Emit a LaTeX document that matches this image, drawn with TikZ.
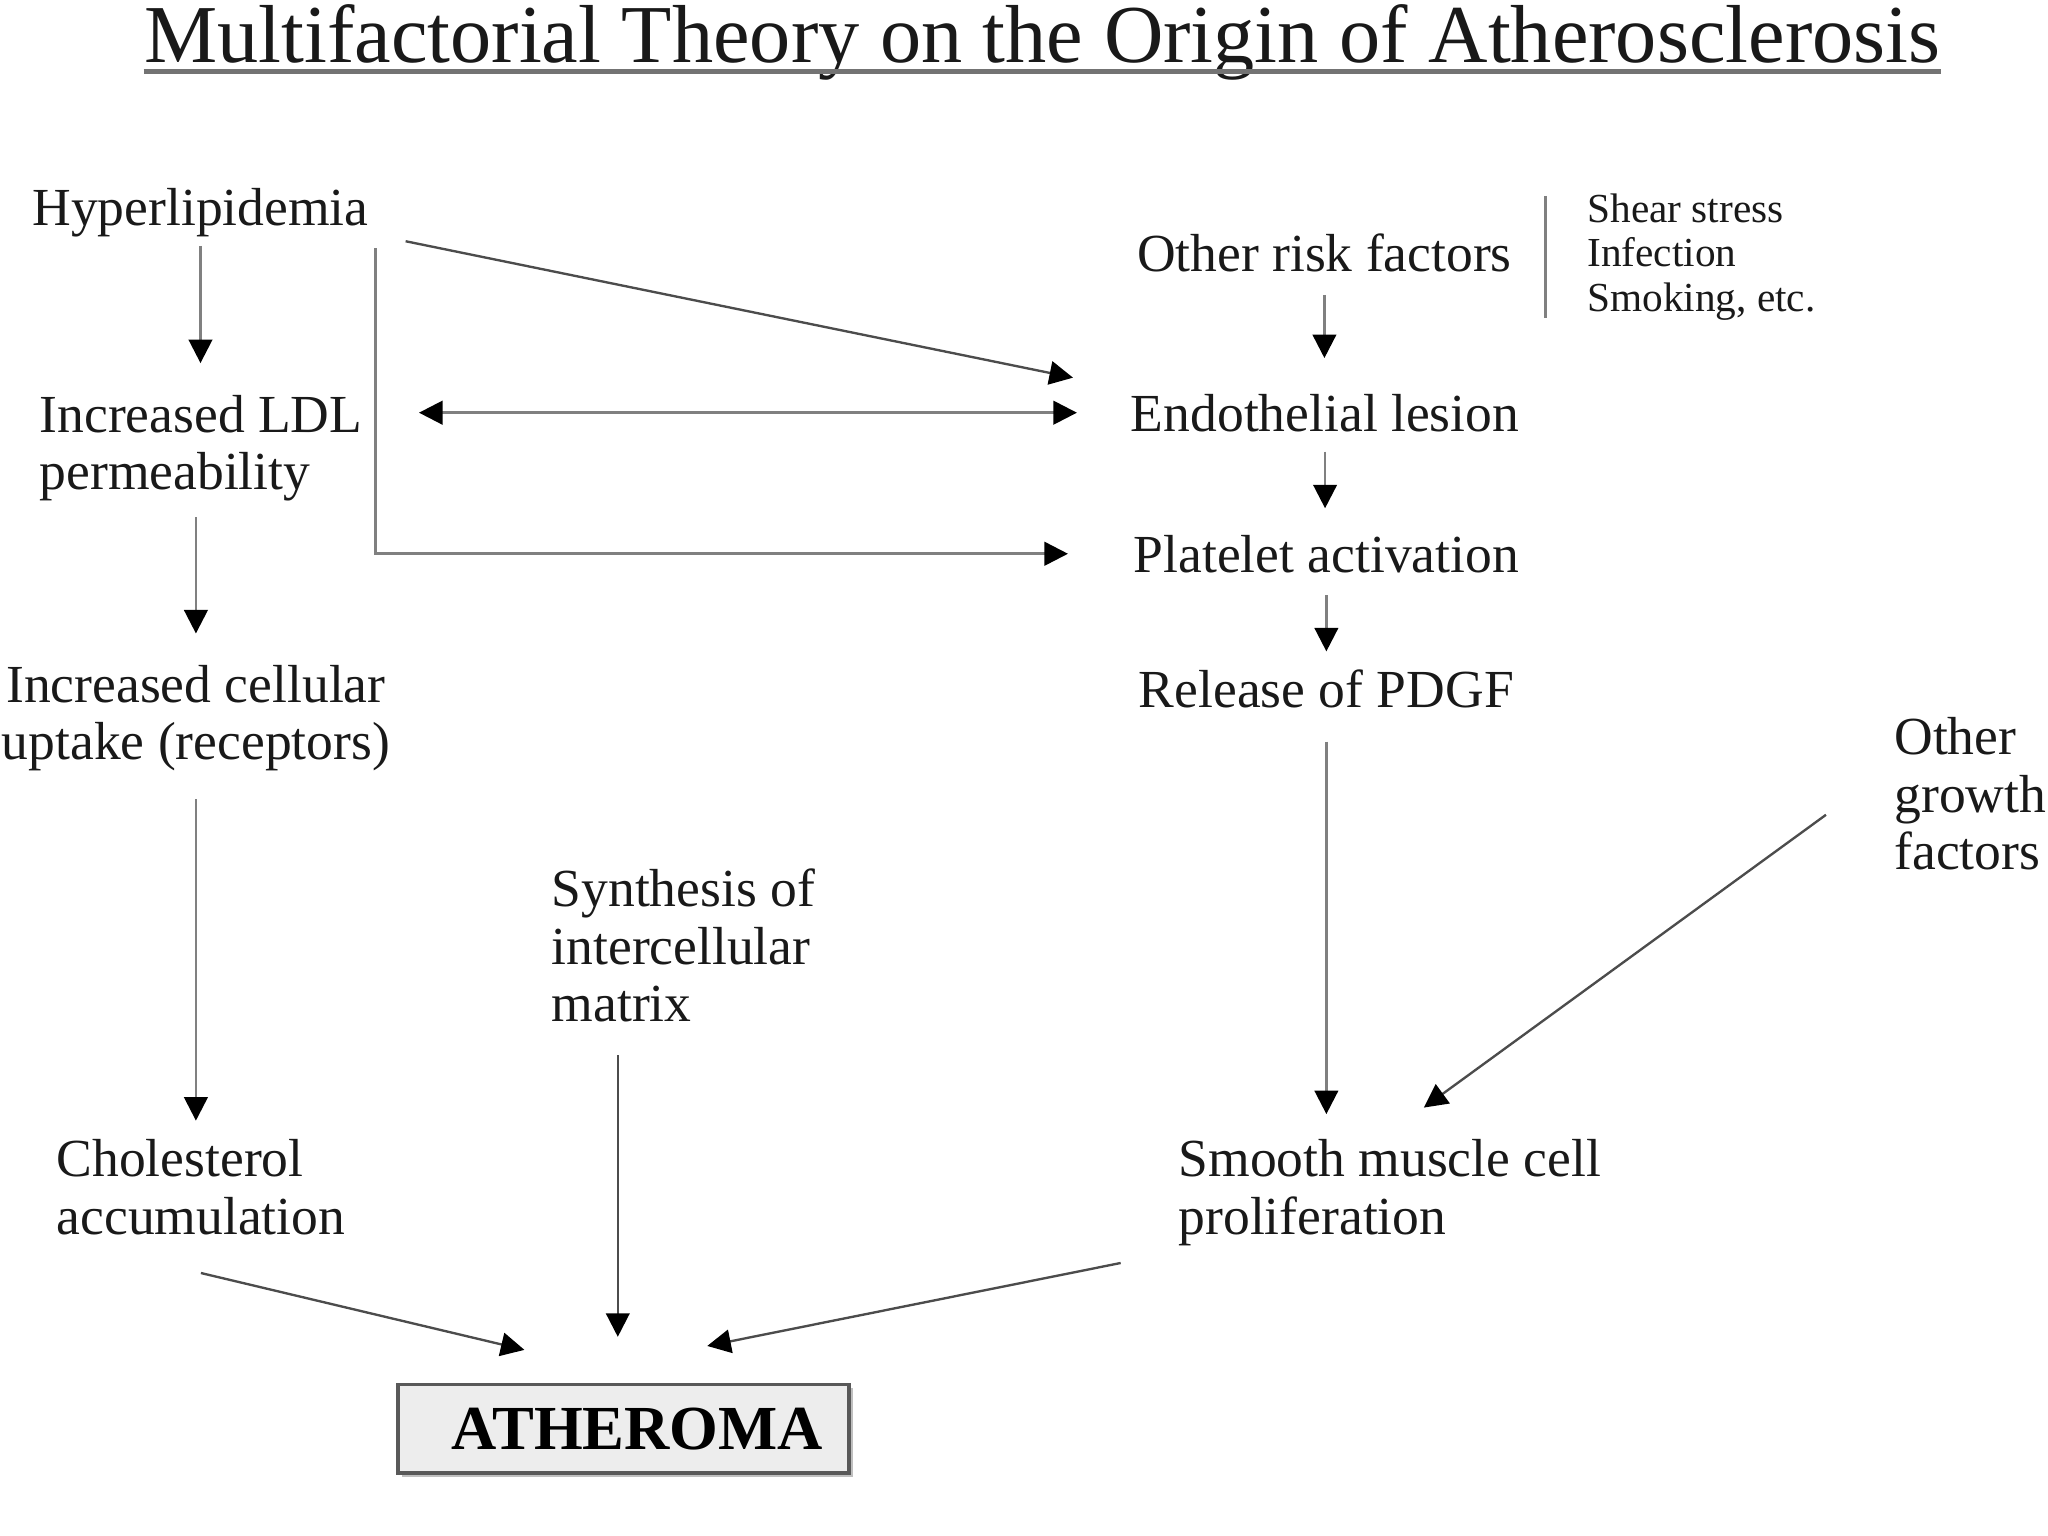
\documentclass[tikz,border=0pt]{standalone}
\usepackage{fontspec}
\setmainfont{Liberation Serif}
\usetikzlibrary{arrows.meta,calc,shadows}
\begin{document}
\begin{tikzpicture}[x=0.5pt,y=-0.5pt,
  mytip/.tip={Triangle[length=9pt,width=9pt,color=black]},
  lbl/.style={inner sep=0pt, font=\fontsize{20.5}{22}\selectfont, text=black!90},
  lblL/.style={lbl, align=left},
  lblC/.style={lbl, align=center},
  small/.style={inner sep=0pt, font=\fontsize{15.8}{17}\selectfont, align=left, text=black!90},
  ttl/.style={inner sep=0pt, font=\fontsize{31.5}{36}\selectfont, text=black!90},
  arr/.style={draw=black!50, line width=1pt, -mytip},
  darr/.style={draw=black!50, line width=1pt, mytip-mytip},
  diag/.style={draw=black!70, line width=0.9pt, -mytip},
  athbox/.style={draw=black!65, line width=1.5pt, fill=black!7, minimum width=172.5pt,
    minimum height=34pt, inner sep=0pt, font=\fontsize{24}{26}\selectfont\bfseries,
    drop shadow={shadow xshift=1.5pt, shadow yshift=-1.5pt, fill=black!25, opacity=1}}
]
\useasboundingbox (0,0) rectangle (1568,1176);

% title
\node[ttl, anchor=base] (title) at (798,48) {Multifactorial Theory on the Origin of Atherosclerosis};
\draw[black!55, line width=2pt] ($(title.base west)+(0,7)$) -- ($(title.base east)+(0,7)$);

% left column
\node[lbl, anchor=base] (hyper) at (153.5,173) {Hyperlipidemia};
\node[lblL, anchor=north west] (ldl) at (30,302) {Increased LDL\\permeability};
\node[lblC, anchor=north] (uptake) at (150,509) {Increased cellular\\uptake (receptors)};
\node[lblL, anchor=north west] (chol) at (43,872) {Cholesterol\\accumulation};

% middle
\node[lblL, anchor=north west] (synth) at (422,665) {Synthesis of\\intercellular\\matrix};
\node[athbox] (ath) at (477.5,1094) {\hspace*{10.5pt}ATHEROMA};

% right column
\node[lbl, anchor=base] (risk) at (1014,208) {Other risk factors};
\node[small, anchor=north west] (list) at (1215,148) {Shear stress\\Infection\\Smoking, etc.};
\node[lbl, anchor=base] (endo) at (1014.5,330) {Endothelial lesion};
\node[lbl, anchor=base] (plat) at (1015.5,438) {Platelet activation};
\node[lbl, anchor=base] (pdgf) at (1015.5,542) {Release of PDGF};
\node[lblL, anchor=north west] (growth) at (1450,549) {Other\\growth\\factors};
\node[lblL, anchor=north west] (smooth) at (902,872) {Smooth muscle cell\\proliferation};

% bar beside list
\draw[black!50, line width=1.2pt] ($(list.north west)+(-32,2)$) -- ($(list.south west)+(-32,-2)$);

% left column arrows
\draw[arr, shorten <=3pt, shorten >=12pt] (hyper.south) -- (hyper.south |- ldl.north);
\draw[arr, shorten <=6pt, shorten >=12pt] (uptake.north |- ldl.south) -- (uptake.north);
\draw[arr, shorten <=10.5pt, shorten >=7pt] (uptake.south) -- (uptake.south |- chol.north);

% right column arrows
\draw[arr, shorten <=8.5pt, shorten >=13.5pt] (risk.south) -- (risk.south |- endo.north);
\draw[arr, shorten <=7.5pt, shorten >=10pt] (endo.south) -- (endo.south |- plat.north);
\draw[arr, shorten <=8.5pt, shorten >=7pt] (plat.south) -- (plat.south |- pdgf.north);
\draw[arr, shorten <=12.5pt, shorten >=9.5pt] (pdgf.south) -- (pdgf.south |- smooth.north);

% cross connections
\draw[darr, shorten <=21.5pt, shorten >=20.5pt] (ldl.east |- endo.west) -- (endo.west);
\draw[diag] ($(hyper.east)+(28,21.5)$) -- ($(endo.north west)+(-44,-12)$);
\draw[arr, shorten >=25pt] ($(hyper.south east)+(5,8)$) |- (plat.west);
\draw[diag] ($(growth.west)+(-52,16)$) -- ($(smooth.north)+(26,-24)$);

% to atheroma
\draw[diag] ($(chol.south)+(0,29)$) -- ($(ath.north west)+(98,-25)$);
\draw[diag] ($(synth.south west)+(51,25)$) -- ($(synth.south west |- ath.north)+(51,-35)$);
\draw[diag] ($(smooth.south west)+(-44,13)$) -- ($(ath.north west)+(238,-28)$);
\end{tikzpicture}
\end{document}
